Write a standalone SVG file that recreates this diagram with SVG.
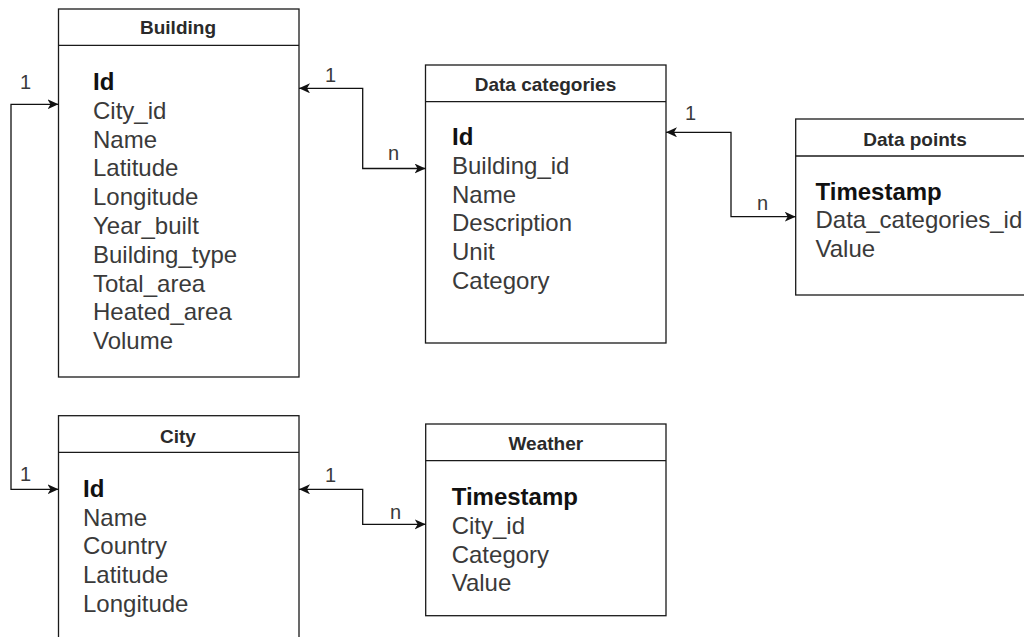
<svg xmlns="http://www.w3.org/2000/svg" width="1024" height="637" viewBox="0 0 1024 637">
<defs>
<style>
.box{fill:#fff;stroke:#1a1a1a;stroke-width:1.3}
.sep{stroke:#1a1a1a;stroke-width:1.3}
.hdr{font-family:"Liberation Sans",Arial,sans-serif;font-size:19px;font-weight:bold;fill:#2a2a2a;text-anchor:middle}
.key{font-family:"Liberation Sans",Arial,sans-serif;font-size:24px;font-weight:bold;fill:#111}
.fld{font-family:"Liberation Sans",Arial,sans-serif;font-size:24px;fill:#3a3a3a}
.lbl{font-family:"Liberation Sans",Arial,sans-serif;font-size:20px;fill:#3a3a3a}
.con{fill:none;stroke:#111;stroke-width:1.3}
</style>
<marker id="arr" markerWidth="13" markerHeight="11" refX="11" refY="5" orient="auto-start-reverse" markerUnits="userSpaceOnUse">
<path d="M0,0 L11,5 L0,10 L3,5 Z" fill="#111"/>
</marker>
</defs>

<g id="building">
<rect class="box" x="58.5" y="9" width="240.5" height="368"/>
<line class="sep" x1="58.5" y1="45.3" x2="299" y2="45.3"/>
<text class="hdr" x="178" y="34">Building</text>
<text class="key" x="93" y="90">Id</text>
<text class="fld" x="93" y="118.8">City_id</text>
<text class="fld" x="93" y="147.6">Name</text>
<text class="fld" x="93" y="176.4">Latitude</text>
<text class="fld" x="93" y="205.2">Longitude</text>
<text class="fld" x="93" y="234">Year_built</text>
<text class="fld" x="93" y="262.8">Building_type</text>
<text class="fld" x="93" y="291.6">Total_area</text>
<text class="fld" x="93" y="320.4">Heated_area</text>
<text class="fld" x="93" y="349.2">Volume</text>
</g>

<g id="data-categories">
<rect class="box" x="425.5" y="65" width="240.5" height="278"/>
<line class="sep" x1="425.5" y1="101.7" x2="666" y2="101.7"/>
<text class="hdr" x="545.5" y="91">Data categories</text>
<text class="key" x="452" y="145">Id</text>
<text class="fld" x="452" y="173.8">Building_id</text>
<text class="fld" x="452" y="202.6">Name</text>
<text class="fld" x="452" y="231.4">Description</text>
<text class="fld" x="452" y="260.2">Unit</text>
<text class="fld" x="452" y="289">Category</text>
</g>

<g id="data-points">
<rect class="box" x="795.7" y="119" width="240" height="176"/>
<line class="sep" x1="795.7" y1="156" x2="1036" y2="156"/>
<text class="hdr" x="915" y="145.5">Data points</text>
<text class="key" x="815.5" y="199.5">Timestamp</text>
<text class="fld" x="815.5" y="228">Data_categories_id</text>
<text class="fld" x="815.5" y="256.7">Value</text>
</g>

<g id="city">
<rect class="box" x="58.5" y="415.7" width="240.5" height="240"/>
<line class="sep" x1="58.5" y1="452.3" x2="299" y2="452.3"/>
<text class="hdr" x="178" y="443.3">City</text>
<text class="key" x="83" y="496.7">Id</text>
<text class="fld" x="83" y="525.5">Name</text>
<text class="fld" x="83" y="554.3">Country</text>
<text class="fld" x="83" y="583.1">Latitude</text>
<text class="fld" x="83" y="611.9">Longitude</text>
</g>

<g id="weather">
<rect class="box" x="425.7" y="424" width="240.3" height="191.7"/>
<line class="sep" x1="425.7" y1="460.7" x2="666" y2="460.7"/>
<text class="hdr" x="545.8" y="450">Weather</text>
<text class="key" x="451.7" y="505">Timestamp</text>
<text class="fld" x="451.7" y="533.8">City_id</text>
<text class="fld" x="451.7" y="562.6">Category</text>
<text class="fld" x="451.7" y="591.4">Value</text>
</g>

<g id="connectors">
<path class="con" d="M58.5,489.3 L11,489.3 L11,104.3 L58.5,104.3" marker-start="url(#arr)" marker-end="url(#arr)"/>
<path class="con" d="M299,88.3 L362.7,88.3 L362.7,168.5 L425.5,168.5" marker-start="url(#arr)" marker-end="url(#arr)"/>
<path class="con" d="M666,132.3 L731,132.3 L731,216.7 L795.7,216.7" marker-start="url(#arr)" marker-end="url(#arr)"/>
<path class="con" d="M299,489.3 L362.7,489.3 L362.7,524.3 L425.7,524.3" marker-start="url(#arr)" marker-end="url(#arr)"/>
<text class="lbl" x="20" y="89">1</text>
<text class="lbl" x="20" y="481">1</text>
<text class="lbl" x="325" y="82">1</text>
<text class="lbl" x="388" y="160">n</text>
<text class="lbl" x="685" y="120">1</text>
<text class="lbl" x="757" y="210">n</text>
<text class="lbl" x="325" y="481.5">1</text>
<text class="lbl" x="390" y="519">n</text>
</g>
</svg>
